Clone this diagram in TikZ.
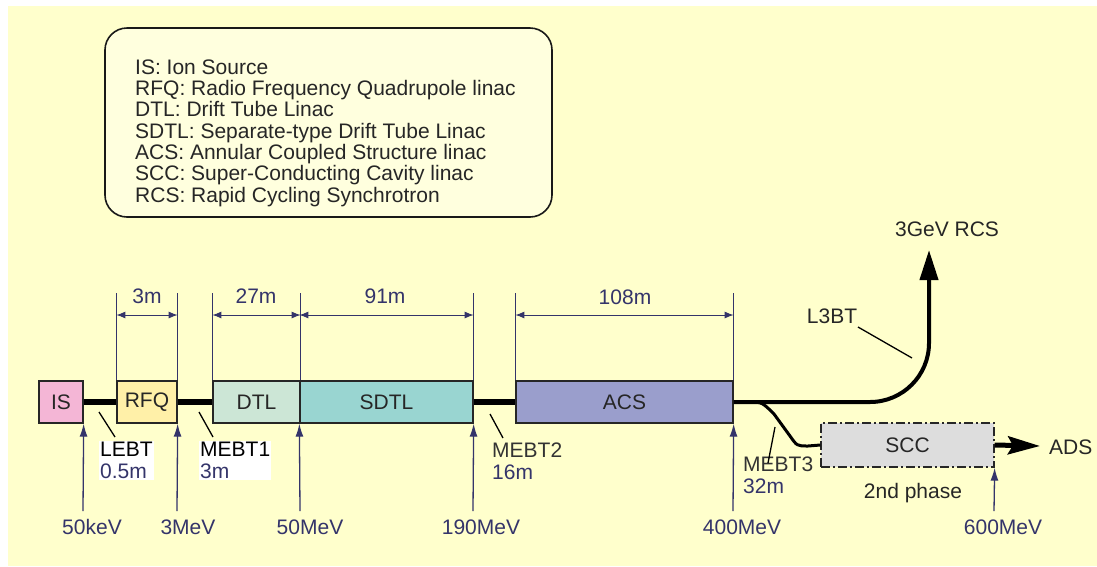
\documentclass[tikz,border=0pt]{standalone}
\usepackage{fontspec}
\setmainfont{Liberation Sans}
\usetikzlibrary{arrows.meta}
\definecolor{bgy}{HTML}{FFFFCC}
\definecolor{legfill}{HTML}{FFFFDE}
\definecolor{navy}{HTML}{34346A}
\definecolor{cIS}{HTML}{F4B6D6}
\definecolor{cRFQ}{HTML}{FFF0A8}
\definecolor{cDTL}{HTML}{CCE6D6}
\definecolor{cSDTL}{HTML}{99D5D1}
\definecolor{cACS}{HTML}{9A9ECC}
\definecolor{cSCC}{HTML}{DDDDDD}
\begin{document}
\begin{tikzpicture}[x=1pt,y=-1pt,font=\fontsize{21}{22}\selectfont,
  stage/.style={draw=black!85, line width=1.3pt, minimum height=42pt, inner sep=0pt, text=black!85},
  beam/.style={line width=6pt, black},
  dimext/.style={navy, line width=1pt},
  dimarrow/.style={navy, line width=1pt, {Latex[length=9pt,width=7pt]}-{Latex[length=9pt,width=7pt]}},
  earrow/.style={navy, line width=1.3pt, -{Latex[length=13pt,width=8pt]}},
  elabel/.style={text=navy, inner sep=0pt},
  leader/.style={black, line width=1.3pt},
  tlabel/.style={inner sep=0pt, text=black!85},
]
\useasboundingbox (0,0) rectangle (1097,566);
\fill[white] (0,0) rectangle (1097,566);
\fill[bgy] (8,6) rectangle (1097,566);

% legend
\node[draw=black!90, line width=1.6pt, rounded corners=22pt, fill=legfill,
      minimum width=447pt, minimum height=189pt] (legend) at (328.5,122.5) {};
\node[anchor=west, align=left, text=black!85, inner sep=0pt,
      font=\fontsize{21}{21.3}\selectfont] (legendtext) at (135,133)
 {IS: Ion Source\\RFQ: Radio Frequency Quadrupole linac\\DTL: Drift Tube Linac\\SDTL: Separate-type Drift Tube Linac\\ACS: Annular Coupled Structure linac\\SCC: Super-Conducting Cavity linac\\RCS: Rapid Cycling Synchrotron};

% stages
\node[stage, fill=cIS,   minimum width=44pt]  (IS)   at (61,402)    {IS};
\node[stage, fill=cRFQ,  minimum width=60pt]  (RFQ)  at (147,402)   {RFQ};
\node[stage, fill=cDTL,  minimum width=87pt]  (DTL)  at (256.5,402) {DTL};
\node[stage, fill=cSDTL, minimum width=173pt] (SDTL) at (386.5,402) {SDTL};
\node[stage, fill=cACS,  minimum width=217pt] (ACS)  at (624.5,402) {ACS};
\node[stage, fill=cSCC,  minimum width=173pt, minimum height=44pt,
      dash pattern=on 9pt off 3pt on 2pt off 3pt] (SCC) at (907.5,445) {SCC};

% beam lines
\draw[beam] (IS.east) -- (RFQ.west);
\draw[beam] (RFQ.east) -- (DTL.west);
\draw[beam] (SDTL.east) -- (ACS.west);

% L3BT to RCS
\coordinate (rcstip) at (929,250);
\draw[line width=4pt, -{Triangle[length=30pt,width=18pt]}]
  (ACS.east) -- (870,402) .. controls (902.6,402) and (929,375.6) .. (929,343) -- (rcstip);
\node[tlabel] (rcs) at (947,229) {3GeV RCS};

% MEBT3 branch to SCC
\coordinate (branch) at (748,402);
\draw[line width=3pt] (branch) .. controls (762,402) .. (774,414) -- (790,436)
  .. controls (797,446) .. (808,446) -- (SCC.west);

% ADS arrow
\coordinate (adstip) at (1040,446);
\draw[line width=5pt, -{Stealth[length=32pt,width=18pt,inset=5pt]}] (SCC.east) -- (adstip);
\node[tlabel, anchor=west] (ads) at (1049,447) {ADS};

% dimension extension lines
\coordinate (dimy) at (0,315);
\coordinate (topy) at (0,293);
\foreach \n/\a in {RFQ/north west,RFQ/north east,DTL/north west,DTL/north east,SDTL/north east,ACS/north west,ACS/north east}
  \draw[dimext] (\n.\a) -- (\n.\a |- topy);
\draw[dimarrow] (RFQ.north west |- dimy) -- (RFQ.north east |- dimy);
\draw[dimarrow] (DTL.north west |- dimy) -- (DTL.north east |- dimy);
\draw[dimarrow] (SDTL.north west |- dimy) -- (SDTL.north east |- dimy);
\draw[dimarrow] (ACS.north west |- dimy) -- (ACS.north east |- dimy);
\node[elabel] (d3)   at (147,296) {3m};
\node[elabel] (d27)  at (256,296) {27m};
\node[elabel] (d91)  at (385,296) {91m};
\node[elabel] (d108) at (625,297) {108m};

% energy arrows
\coordinate (b1) at (83,511);
\coordinate (b2) at (177,511);
\coordinate (b3) at (300,511);
\coordinate (b4) at (473,511);
\coordinate (b5) at (733,511);
\coordinate (b6) at (994,511);
\draw[earrow] (b1) -- (IS.south east);
\draw[earrow] (b2) -- (RFQ.south east);
\draw[earrow] (b3) -- (SDTL.south west);
\draw[earrow] (b4) -- (SDTL.south east);
\draw[earrow] (b5) -- (ACS.south east);
\draw[earrow] (b6) -- (SCC.south east);
\node[elabel] (e1) at (92,527)  {50keV};
\node[elabel] (e2) at (188,527) {3MeV};
\node[elabel] (e3) at (310,527) {50MeV};
\node[elabel] (e4) at (481,527) {190MeV};
\node[elabel] (e5) at (742,527) {400MeV};
\node[elabel] (e6) at (1003,527) {600MeV};

% transport line labels
\node[anchor=north west, fill=white, inner xsep=1pt, inner ysep=1pt, align=left] (lebt) at (99,441)
  {\textcolor{black}{LEBT}\\\textcolor{navy}{0.5m}};
\node[anchor=north west, fill=white, inner xsep=1pt, inner ysep=1pt, align=left, minimum width=71pt] (mebt1) at (199,441)
  {\textcolor{black}{MEBT1}\\\textcolor{navy}{3m}};
\node[anchor=north west, inner sep=0pt, align=left] (mebt2) at (492,443)
  {\textcolor{black!80}{MEBT2}\\\textcolor{navy}{16m}};
\node[anchor=north west, inner sep=0pt, align=left] (mebt3) at (743,457)
  {\textcolor{black!80}{MEBT3}\\\textcolor{navy}{32m}};
\node[tlabel] (l3bt) at (832,316) {L3BT};
\node[tlabel] (phase) at (913,493) {2nd phase};

% leaders
\draw[leader] (99,412) -- (115,437);
\draw[leader] (199,412) -- (213,437);
\draw[leader] (490,414) -- (503,438);
\draw[leader] (858,327) -- (912,358);
\draw[leader] (775,427) -- (768,463);
\end{tikzpicture}
\end{document}
